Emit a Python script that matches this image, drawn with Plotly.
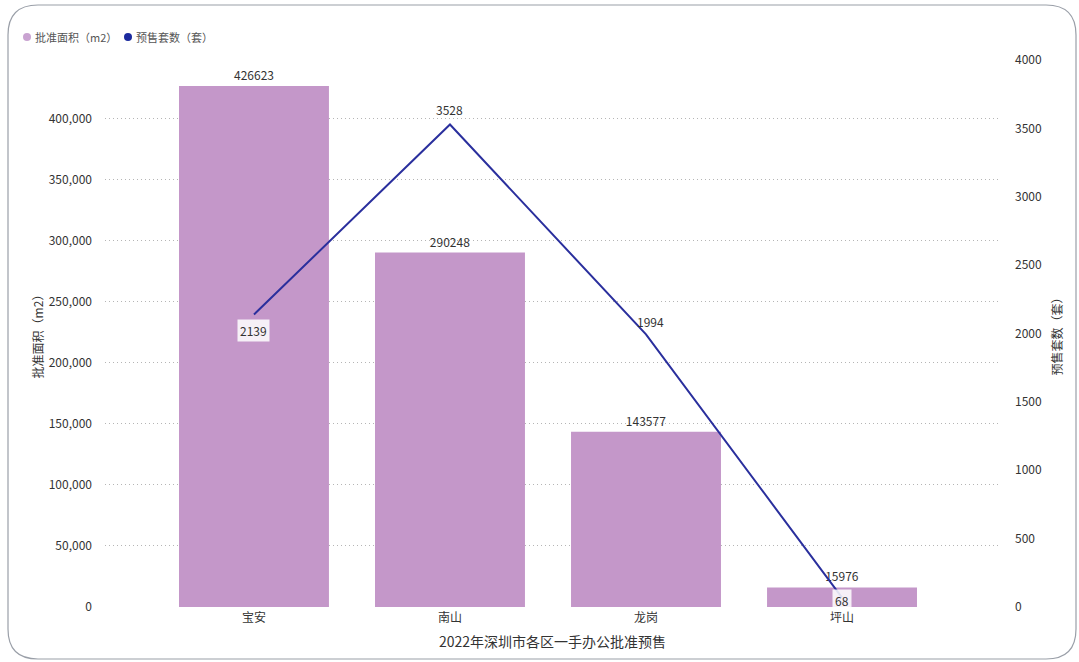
import plotly.graph_objects as go

# ---- data ----
districts = ["宝安", "南山", "龙岗", "坪山"]
approved_area = [426623, 290248, 143577, 15976]   # 批准面积（m2）
presale_units = [2139, 3528, 1994, 68]            # 预售套数（套）
bar_name = "批准面积（m2）"
line_name = "预售套数（套）"
chart_title = "2022年深圳市各区一手办公批准预售"

FONT = "Noto Sans CJK SC, Microsoft YaHei, sans-serif"
BAR_COLOR = "#c497c9"
LINE_COLOR = "#2a2f9d"
TXT = "#333333"

W, H = 1079, 662
L, R, T, B = 105, 79, 60, 55
PW, PH = W - L - R, H - T - B

def px(x):
    return (x - L) / PW

def py(y):
    return (H - B - y) / PH

fig = go.Figure()

fig.add_trace(go.Bar(
    x=districts, y=approved_area, name=bar_name,
    marker=dict(color=BAR_COLOR, line=dict(width=0)),
    width=0.765,
    text=[str(v) for v in approved_area], textposition="outside",
    textfont=dict(size=12, color=TXT, family=FONT),
    cliponaxis=False, showlegend=False,
))

fig.add_trace(go.Scatter(
    x=districts, y=presale_units, name=line_name, yaxis="y2",
    mode="lines", line=dict(color=LINE_COLOR, width=2),
    showlegend=False,
))

# line labels
label_shift = [-16, 15, 13, -3]   # pixel offsets (negative = below)
label_xshift = [0, 0, 4, 0]
boxed = [True, False, False, True]
for d, v, s, xs, bx in zip(districts, presale_units, label_shift, label_xshift, boxed):
    fig.add_annotation(
        x=d, y=v, yref="y2", text=str(v), showarrow=False, yshift=s, xshift=xs,
        font=dict(size=12, color=TXT, family=FONT),
        bgcolor="rgba(255,255,255,0.85)" if bx else None,
        borderpad=2,
    )

# manual legend
legend_items = [(bar_name, "#c9a3d1", 27), (line_name, "#1b2a9e", 128)]
for name, col, cx in legend_items:
    fig.add_shape(type="circle", xref="paper", yref="paper",
                  xsizemode="pixel", ysizemode="pixel",
                  xanchor=px(cx), yanchor=py(37),
                  x0=-4, x1=4, y0=-4, y1=4,
                  fillcolor=col, line=dict(width=0))
    fig.add_annotation(x=px(cx + 6), y=py(37), xref="paper", yref="paper",
                       xanchor="left", yanchor="middle", text=name, showarrow=False,
                       font=dict(size=11, color="#555555", family=FONT))

# bottom title
fig.add_annotation(x=0.5, y=py(641), xref="paper", yref="paper", text=chart_title,
                   showarrow=False, yanchor="middle",
                   font=dict(size=14, color=TXT, family=FONT))

# rounded frame
x0, x1, y0, y1, r = 8, 1076, 5, 659, 30
path = (f"M {px(x0+r)},{py(y0)} L {px(x1-r)},{py(y0)} "
        f"Q {px(x1)},{py(y0)} {px(x1)},{py(y0+r)} "
        f"L {px(x1)},{py(y1-r)} Q {px(x1)},{py(y1)} {px(x1-r)},{py(y1)} "
        f"L {px(x0+r)},{py(y1)} Q {px(x0)},{py(y1)} {px(x0)},{py(y1-r)} "
        f"L {px(x0)},{py(y0+r)} Q {px(x0)},{py(y0)} {px(x0+r)},{py(y0)} Z")
fig.add_shape(type="path", path=path, xref="paper", yref="paper",
              line=dict(color="#9a9fa8", width=1.2), layer="below")

fig.update_layout(
    width=W, height=H,
    margin=dict(l=L, r=R, t=T, b=B, autoexpand=False),
    paper_bgcolor="white", plot_bgcolor="white",
    font=dict(family=FONT, size=12, color=TXT),
    showlegend=False,
    xaxis=dict(range=[-0.76, 3.806], showgrid=False, zeroline=False, showline=False,
               ticks="", tickfont=dict(size=12, color=TXT, family=FONT), ticklabelstandoff=2),
    yaxis=dict(range=[0, 448000], dtick=50000, tickformat=",", showgrid=True,
               gridcolor="#b5b5b5", griddash="1px,3px", gridwidth=1, zeroline=False,
               showline=False, ticks="", ticklabelstandoff=12,
               tickfont=dict(size=12, color=TXT, family=FONT),
               title=dict(text="批准面积（m2）", font=dict(size=12, color=TXT, family=FONT),
                          standoff=2)),
    yaxis2=dict(range=[0, 4000], dtick=500, overlaying="y", side="right",
                showgrid=False, zeroline=False, showline=False, ticks="",
                ticklabelstandoff=14,
                tickfont=dict(size=12, color=TXT, family=FONT),
                title=dict(text="预售套数（套）", font=dict(size=12, color=TXT, family=FONT),
                           standoff=12)),
)

fig.write_html("out.html", config={"displayModeBar": False},
               post_script="document.body.style.margin='0px';document.body.style.padding='0px';")
